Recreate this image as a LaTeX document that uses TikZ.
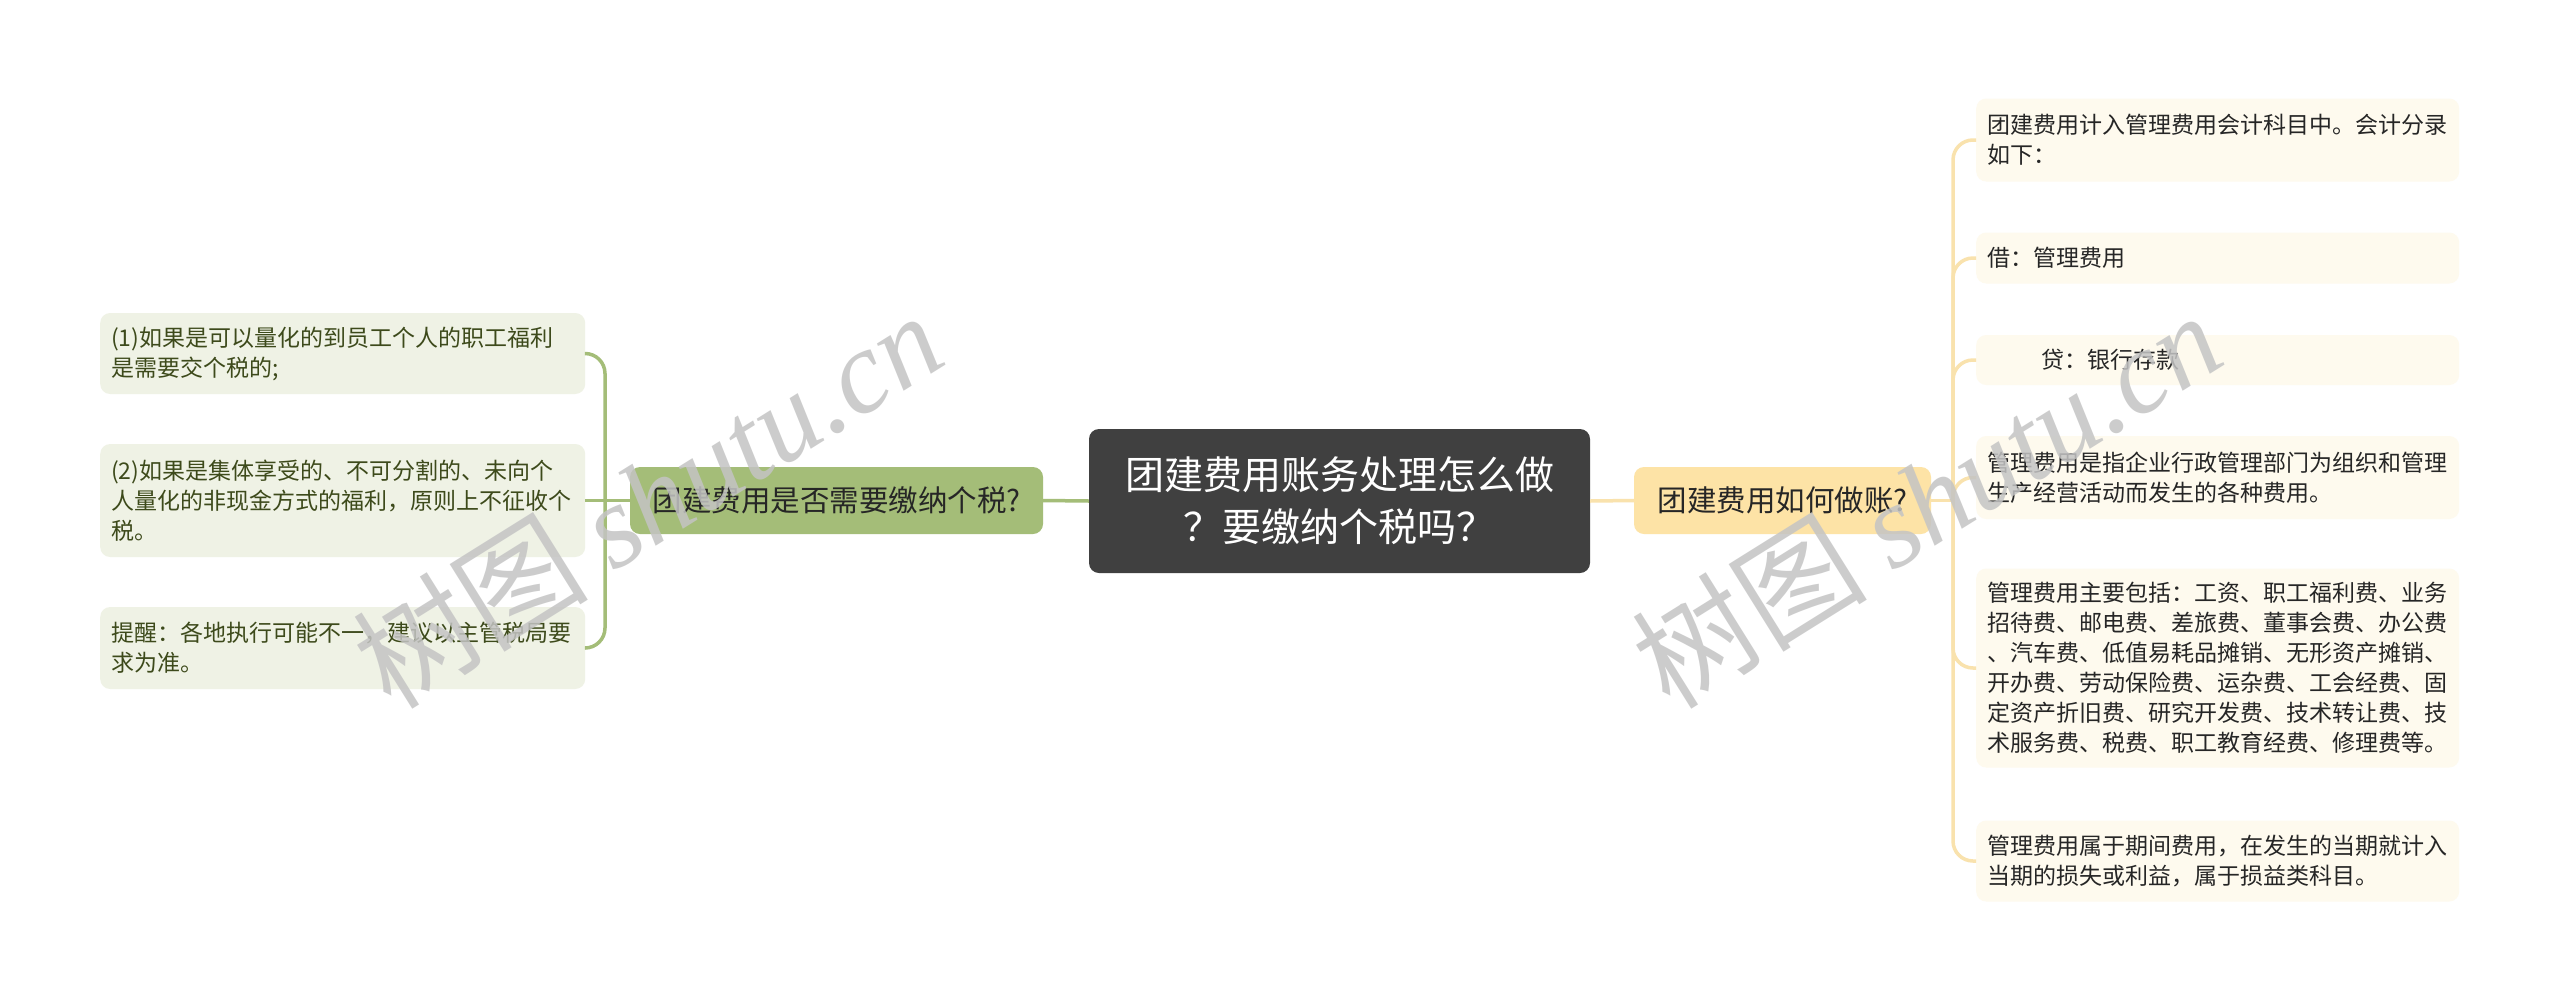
\documentclass[tikz,border=0pt]{standalone}
\usepackage{fontspec}
\setmainfont{Noto Sans CJK SC}
\newfontfamily\wmlatin{Liberation Serif}
\definecolor{centerfill}{HTML}{404040}
\definecolor{lbfill}{HTML}{A4BD78}
\definecolor{lleaffill}{HTML}{EFF2E5}
\definecolor{lleaftext}{HTML}{3D4A1B}
\definecolor{lline}{HTML}{A4BD78}
\definecolor{rbfill}{HTML}{FDE3A6}
\definecolor{rleaffill}{HTML}{FEFAEE}
\definecolor{rline}{HTML}{F9E2AD}
\definecolor{wmgray}{HTML}{C4C4C4}
\tikzset{
  centerbox/.style={fill=centerfill, rounded corners=10pt, text=white, align=center,
    minimum width=501pt, minimum height=144pt, inner sep=0pt,
    font=\fontsize{39}{52}\selectfont},
  lbranch/.style={fill=lbfill, rounded corners=10pt, text=black!85, align=center,
    minimum width=413pt, minimum height=67pt, inner sep=0pt,
    font=\fontsize{29.5}{36}\selectfont},
  rbranch/.style={fill=rbfill, rounded corners=10pt, text=black!85, align=center,
    minimum width=297pt, minimum height=67pt, inner sep=0pt,
    font=\fontsize{29.5}{36}\selectfont},
  lleaf/.style={fill=lleaffill, rounded corners=10pt, text=lleaftext, align=left,
    text width=463pt, inner xsep=11pt, inner ysep=0pt, anchor=west,
    font=\fontsize{23}{30}\selectfont},
  rleaf/.style={fill=rleaffill, rounded corners=10pt, text=black!85, align=left,
    text width=461pt, inner xsep=11pt, inner ysep=0pt, anchor=west,
    font=\fontsize{23}{30}\selectfont},
  lconn/.style={draw=lline, line width=3.5pt, rounded corners=20pt},
  rconn/.style={draw=rline, line width=3.5pt, rounded corners=20pt},
  wmark/.style={text=wmgray, opacity=0.85, rotate=32, inner sep=0pt}
}
\begin{document}
\begin{tikzpicture}[x=1pt,y=-1pt]
\useasboundingbox[fill=white] (0,0) rectangle (2560,1002);

% central
\node[centerbox] (c) at (1339.5,501) {团建费用账务处理怎么做\\？要缴纳个税吗？};

% branches
\node[lbranch] (lb) at (836.5,500.5) {团建费用是否需要缴纳个税?};
\node[rbranch] (rb) at (1782.5,500.5) {团建费用如何做账?};

% left leaves
\node[lleaf, minimum height=81pt] (l1) at (100,353.5) {(1)如果是可以量化的到员工个人的职工福利\\是需要交个税的;};
\node[lleaf, minimum height=113pt] (l2) at (100,500.5) {(2)如果是集体享受的、不可分割的、未向个\\人量化的非现金方式的福利，原则上不征收个\\税。};
\node[lleaf, minimum height=82pt] (l3) at (100,648) {提醒：各地执行可能不一，建议以主管税局要\\求为准。};

% right leaves
\node[rleaf, minimum height=83pt] (r1) at (1976,140) {团建费用计入管理费用会计科目中。会计分录\\如下：};
\node[rleaf, minimum height=51pt] (r2) at (1976,258) {借：管理费用};
\node[rleaf, minimum height=50pt] (r3) at (1976,360) {\hspace*{54pt}贷：银行存款};
\node[rleaf, minimum height=83pt] (r4) at (1976,477.5) {管理费用是指企业行政管理部门为组织和管理\\生产经营活动而发生的各种费用。};
\node[rleaf, minimum height=199pt] (r5) at (1976,668) {管理费用主要包括：工资、职工福利费、业务\\招待费、邮电费、差旅费、董事会费、办公费\\、汽车费、低值易耗品摊销、无形资产摊销、\\开办费、劳动保险费、运杂费、工会经费、固\\定资产折旧费、研究开发费、技术转让费、技\\术服务费、税费、职工教育经费、修理费等。};
\node[rleaf, minimum height=81pt] (r6) at (1976,861) {管理费用属于期间费用，在发生的当期就计入\\当期的损失或利益，属于损益类科目。};

% junctions
\coordinate (lj) at (605,500.5);
\coordinate (rj) at (1953,500.5);

% connectors
\draw[lconn] (c.west) -- (lb.east);
\draw[rconn] (c.east) -- (rb.west);
\draw[lconn] (lb.west) -- (lj);
\draw[lconn] (lj) |- (l1.east);
\draw[lconn] (lj) -- (l2.east);
\draw[lconn] (lj) |- (l3.east);
\draw[rconn] (rb.east) -- (rj);
\draw[rconn] (rj) |- (r1.west);
\draw[rconn] (rj) |- (r2.west);
\draw[rconn] (rj) |- (r3.west);
\draw[rconn] (rj) |- (r4.west);
\draw[rconn] (rj) |- (r5.west);
\draw[rconn] (rj) |- (r6.west);

% watermarks
\node[wmark] (w1) at (647,499) {\fontsize{118}{118}\selectfont 树图 {\wmlatin\itshape shutu.cn}};
\node[wmark] (w2) at (1926,499) {\fontsize{118}{118}\selectfont 树图 {\wmlatin\itshape shutu.cn}};
\end{tikzpicture}
\end{document}
